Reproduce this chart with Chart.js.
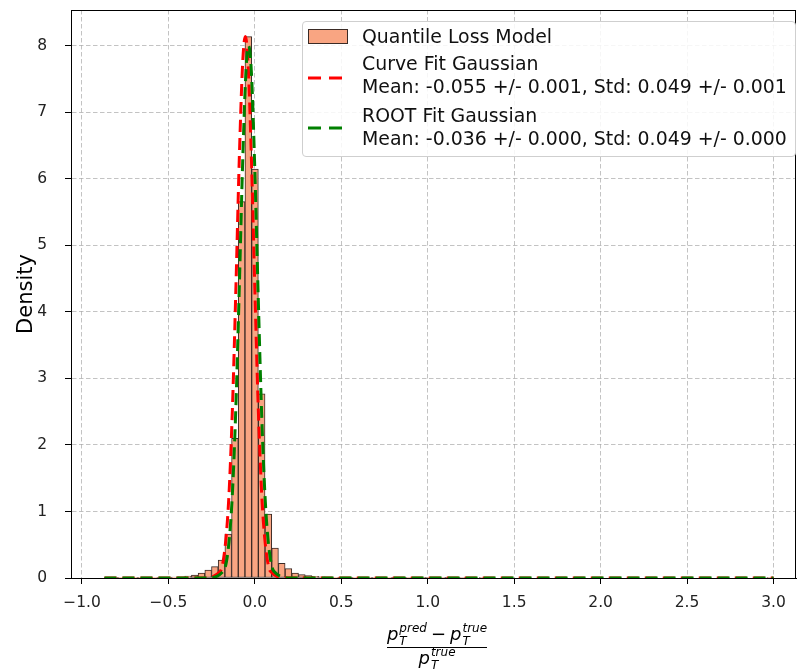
<!DOCTYPE html>
<html>
<head>
<meta charset="utf-8">
<script src="https://cdn.jsdelivr.net/npm/chart.js@4.4.1/dist/chart.umd.min.js"></script>
<style>
  html, body { margin: 0; padding: 0; background: #fff; }
  #wrap { position: relative; width: 797px; height: 672px; font-family: "DejaVu Sans", sans-serif; color: #111; }
  #c { position: absolute; left: 0; top: 0; }
  .leg-box { position: absolute; left: 302px; top: 21px; width: 494px; height: 136px; box-sizing: border-box;
    border: 1px solid #cfcfcf; border-radius: 4px; background: rgba(255,255,255,0.85); }
  .leg-patch { position: absolute; left: 308px; top: 29px; width: 40px; height: 15px; box-sizing: border-box;
    background: #f9a582; border: 1px solid #3a2a25; }
  .leg-txt { position: absolute; left: 362px; font-size: 18.9px; line-height: 22px; white-space: nowrap; }
  .leg-line { position: absolute; left: 306px; width: 46px; height: 8px; }
</style>
</head>
<body>
<div id="wrap">
  <canvas id="c" width="797" height="672"></canvas>
  <div class="leg-box"></div>
  <div class="leg-patch"></div>
  <div class="leg-txt" style="top:25px">Quantile Loss Model</div>
  <svg class="leg-line" style="top:74px" viewBox="0 0 46 8"><line x1="2" y1="4" x2="44" y2="4" stroke="#ff0000" stroke-width="3" stroke-dasharray="13 8"/></svg>
  <div class="leg-txt" style="top:52px">Curve Fit Gaussian</div>
  <div class="leg-txt" style="top:75px">Mean: -0.055 +/- 0.001, Std: 0.049 +/- 0.001</div>
  <svg class="leg-line" style="top:124px" viewBox="0 0 46 8"><line x1="2" y1="4" x2="44" y2="4" stroke="#008000" stroke-width="3" stroke-dasharray="13 8"/></svg>
  <div class="leg-txt" style="top:104px">ROOT Fit Gaussian</div>
  <div class="leg-txt" style="top:127px">Mean: -0.036 +/- 0.000, Std: 0.049 +/- 0.000</div>
</div>
<script>
// histogram: 100 bins from -0.87 to 3.0
const binStart = -0.87;
const binWidth = 0.0387;
const density = [
  0.003, 0.002, 0.002, 0.003, 0.003, 0.004, 0.005, 0.006, 0.007, 0.009,
  0.012, 0.018, 0.028, 0.045, 0.075, 0.12, 0.17, 0.27, 0.66, 2.1,
  5.66, 8.14, 6.15, 2.77, 0.96, 0.45, 0.22, 0.14, 0.075, 0.05,
  0.035, 0.024, 0.017, 0.012, 0.009, 0.007, 0.005, 0.004, 0.004, 0.003,
  0.003, 0.002, 0.002, 0.002, 0.001, 0.001, 0.001, 0.001, 0.001, 0.001,
  0.001, 0.001, 0, 0.001, 0, 0, 0.001, 0, 0, 0,
  0, 0, 0, 0, 0, 0, 0, 0, 0, 0,
  0, 0, 0, 0, 0, 0, 0, 0, 0, 0,
  0, 0, 0, 0, 0, 0, 0, 0, 0, 0,
  0, 0, 0, 0, 0, 0, 0, 0, 0, 0.001
];

// fitted gaussians
const curveFitX = [-0.87, -0.30, -0.20, -0.17, -0.15, -0.13, -0.11, -0.09, -0.07, -0.055, -0.04, -0.02, 0.0, 0.02, 0.04, 0.06, 0.09, 0.19, 3.0];
const curveFitY = [0, 0, 0.10, 0.52, 1.24, 2.53, 4.33, 6.31, 7.77, 8.14, 7.77, 6.31, 4.33, 2.53, 1.24, 0.52, 0.10, 0, 0];
const rootFitX = [-0.87, -0.28, -0.18, -0.15, -0.13, -0.11, -0.09, -0.07, -0.05, -0.036, -0.02, 0.0, 0.02, 0.04, 0.06, 0.08, 0.11, 0.21, 3.0];
const rootFitY = [0, 0, 0.11, 0.53, 1.27, 2.56, 4.37, 6.30, 7.69, 8.0, 7.6, 6.11, 4.17, 2.41, 1.17, 0.48, 0.10, 0, 0];

// tick positions
const xTicks = [-1.0, -0.5, 0.0, 0.5, 1.0, 1.5, 2.0, 2.5, 3.0];
const yTicks = [0, 1, 2, 3, 4, 5, 6, 7, 8];

const FONT = '"DejaVu Sans", sans-serif';

const histPoints = density.map((d, i) => ({ x: binStart + binWidth * (i + 0.5), y: d }));
const toPts = (xs, ys) => xs.map((x, i) => ({ x, y: ys[i] }));

const fmtTick = v => (v < 0 ? '\u2212' : '') + Math.abs(v).toFixed(1);

// full box round the axes, like matplotlib spines
const frame = {
  id: 'frame',
  afterDraw(chart) {
    const { ctx, chartArea: a } = chart;
    ctx.save();
    ctx.strokeStyle = '#000';
    ctx.lineWidth = 1;
    ctx.strokeRect(Math.round(a.left) + 0.5, Math.round(a.top) + 0.5,
      Math.round(a.right - a.left) - 1, Math.round(a.bottom - a.top));
    ctx.restore();
  }
};

// x axis label: (p_T^pred - p_T^true) / p_T^true
const fracLabel = {
  id: 'fracLabel',
  afterDraw(chart) {
    const ctx = chart.ctx;
    const cx = 437;
    const big = 'italic 18px ' + FONT, small = 'italic 12px ' + FONT, up = '18px ' + FONT;
    const pieceW = (sup, sub) => {
      ctx.font = big; const a = ctx.measureText('p').width;
      ctx.font = small; return a + 1 + Math.max(ctx.measureText(sup).width, ctx.measureText(sub).width);
    };
    const drawPiece = (x, base, sup, sub) => {
      ctx.font = big; ctx.fillText('p', x, base);
      const a = ctx.measureText('p').width + 1;
      ctx.font = small;
      ctx.fillText(sup, x + a, base - 8);
      ctx.fillText(sub, x + a, base + 5);
    };
    ctx.save();
    ctx.fillStyle = '#000';
    ctx.textBaseline = 'alphabetic';
    ctx.textAlign = 'left';
    const w1 = pieceW('pred', 'T');
    ctx.font = up; const wm = ctx.measureText('\u2212').width;
    const w2 = pieceW('true', 'T');
    const gap = 4;
    const W = w1 + gap + wm + gap + w2;
    let x = cx - W / 2;
    drawPiece(x, 640, 'pred', 'T');
    x += w1 + gap;
    ctx.font = up; ctx.fillText('\u2212', x, 640);
    x += wm + gap;
    drawPiece(x, 640, 'true', 'T');
    ctx.fillRect(Math.round(cx - W / 2), 647, Math.round(W), 1);
    drawPiece(cx - w2 / 2, 664, 'true', 'T');
    ctx.restore();
  }
};

const noPad = s => { s.paddingTop = 0; s.paddingBottom = 0; s.paddingLeft = 0; s.paddingRight = 0; };

new Chart(document.getElementById('c'), {
  type: 'bar',
  data: {
    datasets: [
      {
        type: 'line', label: 'ROOT Fit Gaussian', order: 1,
        data: toPts(rootFitX, rootFitY),
        borderColor: '#008000', borderWidth: 3, borderDash: [12, 6],
        pointRadius: 0, fill: false, cubicInterpolationMode: 'monotone'
      },
      {
        type: 'line', label: 'Curve Fit Gaussian', order: 2,
        data: toPts(curveFitX, curveFitY),
        borderColor: '#ff0000', borderWidth: 3, borderDash: [12, 6],
        pointRadius: 0, fill: false, cubicInterpolationMode: 'monotone'
      },
      {
        label: 'Quantile Loss Model', order: 3,
        data: histPoints,
        backgroundColor: '#f9a582', borderColor: '#3a2a25', borderWidth: 1,
        borderSkipped: false, barPercentage: 1, categoryPercentage: 1
      }
    ]
  },
  options: {
    responsive: false,
    animation: false,
    layout: { padding: { top: 10, right: 1, left: 0, bottom: 0 } },
    plugins: { legend: { display: false }, tooltip: { enabled: false } },
    scales: {
      x: {
        type: 'linear', min: -1.0635, max: 3.13, bounds: 'data', offset: false,
        afterBuildTicks: s => { s.ticks = xTicks.map(v => ({ value: v })); },
        afterFit: s => { s.height = 94; noPad(s); },
        ticks: { autoSkip: false, maxRotation: 0,
          callback: v => fmtTick(v), font: { family: FONT, size: 15.5 }, color: '#222', padding: 10 },
        grid: { offset: false, color: 'rgba(170,170,170,0.7)', lineWidth: 1, tickColor: '#000', tickLength: 6, tickWidth: 1 },
        border: { color: '#000', width: 1, dash: [4.5, 2.5] }
      },
      y: {
        type: 'linear', min: 0, max: 8.54, bounds: 'data',
        afterBuildTicks: s => { s.ticks = yTicks.map(v => ({ value: v })); },
        afterFit: s => { s.width = 71; noPad(s); },
        ticks: { callback: v => String(v),
          font: { family: FONT, size: 15.5 }, color: '#222', padding: 18 },
        grid: { color: 'rgba(170,170,170,0.7)', lineWidth: 1, tickColor: '#000', tickLength: 6, tickWidth: 1 },
        border: { color: '#000', width: 1, dash: [4.5, 2.5] },
        title: { display: true, text: 'Density', color: '#000', font: { family: FONT, size: 21 }, padding: { top: 14, bottom: 0 } }
      }
    }
  },
  plugins: [frame, fracLabel]
});
</script>
</body>
</html>
